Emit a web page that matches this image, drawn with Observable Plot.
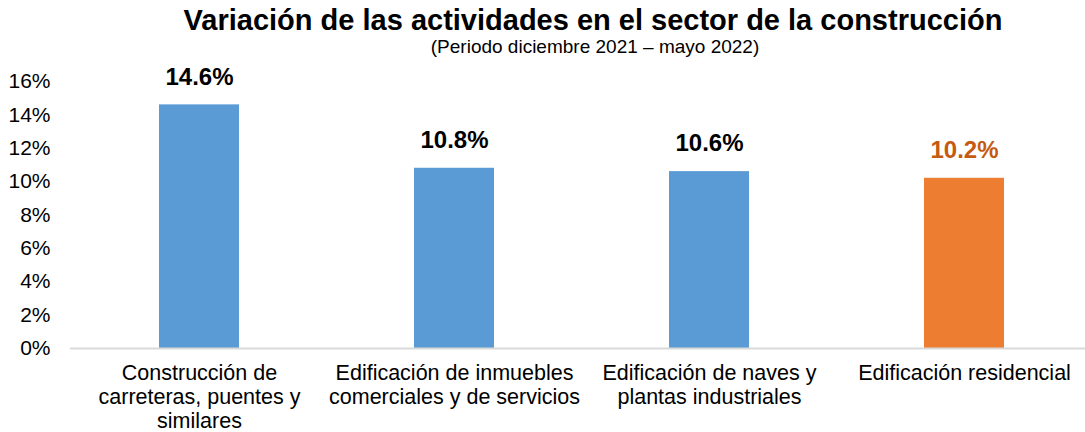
<!DOCTYPE html>
<html>
<head>
<meta charset="utf-8">
<script src="https://cdn.jsdelivr.net/npm/d3@7"></script>
<script src="https://cdn.jsdelivr.net/npm/@observablehq/plot@0.6"></script>
<style>
  html, body { margin: 0; padding: 0; background: #fff; overflow: hidden; width: 1085px; height: 432px; }
  #title { position: absolute; left: 93px; top: 0; width: 1000px; text-align: center; font: bold 29px "Liberation Sans", Arial, sans-serif; line-height: 40px; color: #000; white-space: nowrap; }
  #subtitle { position: absolute; left: 95px; top: 37px; width: 1000px; text-align: center; font: 19px "Liberation Sans", Arial, sans-serif; line-height: 20px; color: #000; white-space: nowrap; }
  #chart { position: absolute; left: 0; top: 60px; width: 1092px; }
  #chart svg { max-width: none !important; }
</style>
</head>
<body>
<div id="title">Variación de las actividades en el sector de la construcción</div>
<div id="subtitle">(Periodo diciembre 2021 – mayo 2022)</div>
<div id="chart"></div>
<script>
const categories = [
  "Construcción de carreteras, puentes y similares",
  "Edificación de inmuebles comerciales y de servicios",
  "Edificación de naves y plantas industriales",
  "Edificación residencial"
];
const categoryLabels = [
  "Construcción de\ncarreteras, puentes y\nsimilares",
  "Edificación de inmuebles\ncomerciales y de servicios",
  "Edificación de naves y\nplantas industriales",
  "Edificación residencial"
];
const values = [14.6, 10.8, 10.6, 10.2];
const highlight = [false, false, false, true];
const yTicks = [0, 2, 4, 6, 8, 10, 12, 14, 16];

const data = categories.map((c, i) => ({
  category: c, label: categoryLabels[i], value: values[i], highlight: highlight[i]
}));
const labelOf = new Map(data.map(d => [d.category, d.label]));

const chart = Plot.plot({
  width: 1092,
  height: 372,
  marginLeft: 70,
  marginRight: 0,
  marginTop: 21,
  marginBottom: 84,
  style: { fontFamily: "'Liberation Sans', Arial, sans-serif", background: "transparent", color: "#000", overflow: "visible", maxWidth: "none" },
  x: { domain: categories, paddingInner: 0.687, paddingOuter: 0.3435, align: 0.5 },
  y: { domain: [0, 16], ticks: yTicks },
  marks: [
    Plot.barY(data, {
      x: "category", y: "value",
      fill: d => d.highlight ? "#ED7D31" : "#5B9BD5"
    }),
    Plot.ruleY([0], { stroke: "#D9D9D9", strokeWidth: 2 }),
    Plot.axisY({
      ticks: yTicks, tickSize: 0, tickPadding: 20,
      tickFormat: d => d + "%", fontSize: 21, label: null, fill: "#000"
    }),
    Plot.axisX({
      tickSize: 0, tickPadding: 15, tickFormat: d => labelOf.get(d),
      fontSize: 21.5, lineHeight: 1.11, label: null, fill: "#000"
    }),
    Plot.text(data, {
      x: "category", y: "value",
      text: d => d.value.toFixed(1) + "%",
      dy: -28, fontSize: 24, fontWeight: "bold",
      fill: d => d.highlight ? "#C55A11" : "#000"
    })
  ]
});
document.getElementById("chart").appendChild(chart);
</script>
</body>
</html>
